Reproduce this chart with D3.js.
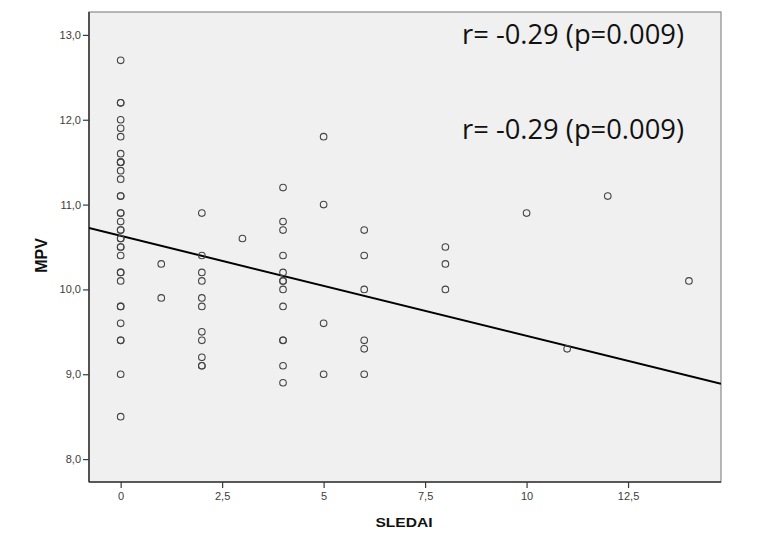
<!DOCTYPE html>
<html><head><meta charset="utf-8">
<script src="https://cdn.jsdelivr.net/npm/d3@7"></script>
<style>body{margin:0;background:#fff;}svg{display:block;}</style>
</head><body>
<svg id="c" width="757" height="539"></svg>
<script>
// SLEDAI (x) and MPV (y) observations
const sledai = [
  0,0,0,0,0,0,0,0,0,0,0,0,0,0,0,0,0,0,0,0,0,0,0,0,0,0,0,0,0,0,0,0,0,0,
  1,1,
  2,2,2,2,2,2,2,2,2,2,2,
  3,
  4,4,4,4,4,4,4,4,4,4,4,4,4,
  5,5,5,5,
  6,6,6,6,6,6,
  8,8,8,
  10,11,12,14
];
const mpv = [
  12.7,12.2,12.2,12.0,11.9,11.8,11.6,11.5,11.5,11.4,11.3,11.1,11.1,10.9,10.9,10.8,10.7,10.7,10.6,10.5,10.5,10.4,10.2,10.2,10.1,9.8,9.8,9.6,9.4,9.4,9.0,8.5,10.6,11.5,
  10.3,9.9,
  10.9,10.4,10.2,10.1,9.9,9.8,9.5,9.4,9.2,9.1,9.1,
  10.6,
  11.2,10.8,10.7,10.4,10.2,10.1,10.1,10.0,9.8,9.4,9.4,9.1,8.9,
  11.8,11.0,9.6,9.0,
  10.7,10.4,10.0,9.4,9.3,9.0,
  10.5,10.3,10.0,
  10.9,9.3,11.1,10.1
];
const xTicks = [0, 2.5, 5, 7.5, 10, 12.5];
const yTicks = [8, 9, 10, 11, 12, 13];
const fitIntercept = 10.632, fitSlope = -0.118;
const annotation = "r= -0.29 (p=0.009)";

const svg = d3.select("#c");
const L = 89, R = 721, T = 12, B = 482;
const x = d3.scaleLinear().domain([-0.78, 14.79]).range([L, R]);
const y = d3.scaleLinear().domain([7.73, 13.27]).range([B, T]);

svg.append("rect").attr("x", L).attr("y", T).attr("width", R - L).attr("height", B - T)
  .attr("fill", "#f0f0f0").attr("stroke", "#8a8a8a").attr("stroke-width", 1.2);

const fmt = d => d3.format(d % 1 === 0 ? "d" : ".1f")(d).replace(".", ",");
const xa = svg.append("g").attr("transform", `translate(0,${B})`)
  .call(d3.axisBottom(x).tickValues(xTicks).tickSize(6).tickPadding(4).tickFormat(fmt));
const ya = svg.append("g").attr("transform", `translate(${L},0)`)
  .call(d3.axisLeft(y).tickValues(yTicks).tickSize(6).tickPadding(2).tickFormat(d => d3.format(".1f")(d).replace(".", ",")));
[xa, ya].forEach(a => {
  a.select(".domain").attr("stroke", "#3a3a3a").attr("stroke-width", 1.6);
  a.selectAll(".tick line").attr("stroke", "#3a3a3a").attr("stroke-width", 1.2);
  a.selectAll(".tick text").attr("fill", "#3c3c3c").style("font-family", "Liberation Sans, Arial, sans-serif").style("font-size", "11px");
});
xa.select(".domain").attr("d", `M${L},0H${R}`);
ya.select(".domain").attr("d", `M0,${B}V${T}`);

svg.append("clipPath").attr("id", "cl").append("rect")
  .attr("x", L).attr("y", T).attr("width", R - L).attr("height", B - T);

const xd = x.domain();
svg.append("line").attr("clip-path", "url(#cl)")
  .attr("x1", x(xd[0])).attr("y1", y(fitIntercept + fitSlope * xd[0]))
  .attr("x2", x(xd[1])).attr("y2", y(fitIntercept + fitSlope * xd[1]))
  .attr("stroke", "#000").attr("stroke-width", 2);

svg.append("g").selectAll("circle").data(sledai.map((s, i) => [s, mpv[i]])).join("circle")
  .attr("cx", d => x(d[0])).attr("cy", d => y(d[1])).attr("r", 3.3)
  .attr("fill", "none").attr("stroke", "#444").attr("stroke-width", 1.1);

[33, 128].forEach(cy => {
  const t = svg.append("text").attr("x", 573).attr("y", cy).attr("text-anchor", "middle")
    .attr("dominant-baseline", "central")
    .style("font-family", "Open Sans, Noto Sans, sans-serif").style("font-size", "22px")
    .attr("fill", "#111").text(annotation);
  const w = t.node().getComputedTextLength();
  t.style("font-size", (22 * 222 / w).toFixed(2) + "px");
});

svg.append("text").attr("transform", "translate(404,522) scale(1.2,1)").attr("text-anchor", "middle")
  .attr("dominant-baseline", "central")
  .style("font-family", "Liberation Sans, Arial, sans-serif").style("font-weight", "bold").style("font-size", "13px")
  .attr("fill", "#111").text("SLEDAI");
svg.append("text").attr("transform", "translate(41,255.5) rotate(-90)").attr("text-anchor", "middle")
  .attr("dominant-baseline", "central")
  .style("font-family", "Liberation Sans, Arial, sans-serif").style("font-weight", "bold").style("font-size", "16px")
  .attr("fill", "#111").text("MPV");
</script>
</body></html>
